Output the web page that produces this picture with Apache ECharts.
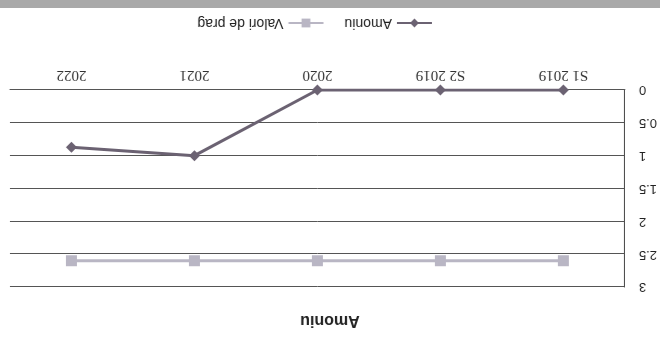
<!DOCTYPE html>
<html>
<head>
<meta charset="utf-8">
<script src="https://cdn.jsdelivr.net/npm/echarts@6/dist/echarts.min.js"></script>
<style>
  html, body { margin: 0; padding: 0; background: #fff; }
  /* the scanned reference is upside down, so the whole chart is turned round */
  #chart { width: 660px; height: 338px; transform: rotate(180deg); }
</style>
</head>
<body>
<div id="chart"></div>
<script>
var categories = ['S1 2019', 'S2 2019', '2020', '2021', '2022'];
var amoniu = [0, 0, 0, 1, 0.87];
var valoriPrag = [2.6, 2.6, 2.6, 2.6, 2.6];

var myChart = echarts.init(document.getElementById('chart'));

var option = {
    backgroundColor: '#fff',
    animation: false,
    title: {
        text: 'Amoniu',
        left: 'center',
        top: 5,
        textStyle: { fontFamily: 'Liberation Sans', fontSize: 16, fontWeight: 'bold', color: '#222' }
    },
    legend: {
        left: 222,
        top: 303,
        itemGap: 20,
        itemWidth: 35,
        itemHeight: 11,
        textStyle: { fontFamily: 'Liberation Sans', fontSize: 14, color: '#222' },
        data: ['Amoniu', 'Valori de prag']
    },
    grid: { left: 33, right: 10, top: 51, bottom: 90 },
    xAxis: {
        type: 'category',
        data: categories,
        boundaryGap: true,
        axisTick: { show: false },
        axisLine: { lineStyle: { color: '#555', width: 1 } },
        axisLabel: { fontFamily: 'Liberation Serif', fontSize: 15, color: '#333', margin: 8 }
    },
    yAxis: {
        type: 'value',
        min: 0,
        max: 3,
        interval: 0.5,
        axisLine: { show: true, lineStyle: { color: '#444', width: 1 } },
        axisTick: { show: false },
        splitLine: { lineStyle: { color: '#555', width: 1 } },
        axisLabel: { fontFamily: 'Liberation Sans', fontSize: 13, color: '#222', margin: 14 }
    },
    series: [{
        name: 'Amoniu',
        type: 'line',
        data: amoniu,
        symbol: 'diamond',
        symbolSize: 11,
        color: '#6b6272',
        lineStyle: { color: '#6b6272', width: 3 },
        itemStyle: { color: '#6b6272' }
    }, {
        name: 'Valori de prag',
        type: 'line',
        data: valoriPrag,
        symbol: 'rect',
        symbolSize: 11,
        color: '#b9b6c4',
        lineStyle: { color: '#b9b6c4', width: 3 },
        itemStyle: { color: '#b9b6c4' }
    }],
    graphic: [{
        type: 'rect',
        left: 0,
        bottom: 0,
        shape: { width: 660, height: 8 },
        style: { fill: '#a9a9a9' }
    }]
};

myChart.setOption(option);
window.addEventListener('resize', function () {
    myChart.resize();
});
</script>
</body>
</html>
